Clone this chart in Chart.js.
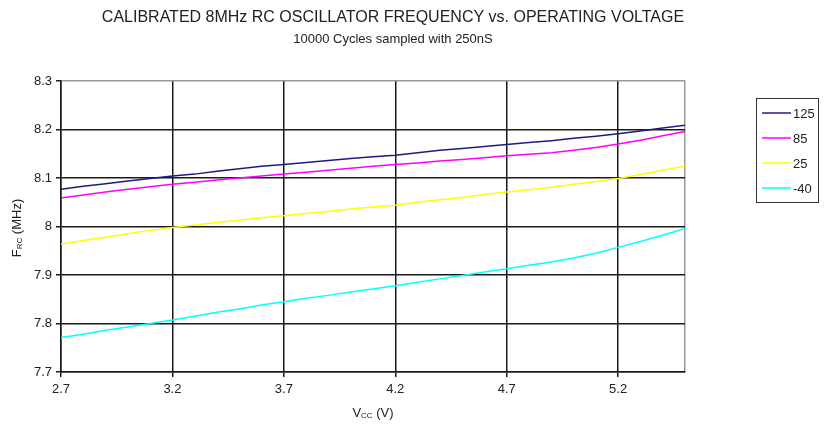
<!DOCTYPE html>
<html>
<head>
<meta charset="utf-8">
<script src="https://cdn.jsdelivr.net/npm/chart.js@4.4.1/dist/chart.umd.min.js"></script>
<style>
html,body{margin:0;padding:0;background:#fff;}
#wrap{width:824px;height:429px;position:relative;}
</style>
</head>
<body>
<div id="wrap"><canvas id="c" width="824" height="429"></canvas></div>
<script>
const voltages = [2.7,2.8,2.9,3.0,3.1,3.2,3.3,3.4,3.5,3.6,3.7,3.8,3.9,4.0,4.1,4.2,4.3,4.4,4.5,4.6,4.7,4.8,4.9,5.0,5.1,5.2,5.3,5.4,5.5];
const seriesNames = ["125","85","25","-40"];
const f125 = [8.077,8.083,8.088,8.094,8.099,8.104,8.108,8.114,8.119,8.124,8.128,8.132,8.136,8.140,8.144,8.147,8.152,8.157,8.161,8.165,8.169,8.173,8.177,8.182,8.186,8.191,8.197,8.203,8.209];
const f85 = [8.059,8.065,8.071,8.077,8.082,8.087,8.091,8.096,8.100,8.104,8.108,8.112,8.116,8.120,8.124,8.128,8.131,8.135,8.138,8.142,8.146,8.149,8.152,8.157,8.163,8.170,8.178,8.187,8.196];
const f25 = [7.964,7.971,7.978,7.985,7.992,7.998,8.003,8.008,8.013,8.018,8.022,8.027,8.031,8.036,8.040,8.044,8.050,8.055,8.060,8.066,8.071,8.076,8.081,8.087,8.093,8.099,8.107,8.116,8.125];
const fm40 = [7.771,7.778,7.786,7.793,7.800,7.807,7.815,7.823,7.830,7.838,7.845,7.852,7.858,7.865,7.871,7.878,7.885,7.892,7.899,7.906,7.913,7.920,7.927,7.935,7.945,7.957,7.969,7.982,7.996];
const xTickLabels = [2.7,3.2,3.7,4.2,4.7,5.2];
const yTickLabels = [7.7,7.8,7.9,8.0,8.1,8.2,8.3];
const titleText = "CALIBRATED 8MHz RC OSCILLATOR FREQUENCY vs. OPERATING VOLTAGE";
const subtitleText = "10000 Cycles sampled with 250nS";

const colors = ["#1c1c80","#ff00ff","#ffff00","#00ffff"];
const allSeries = [f125,f85,f25,fm40];
const FONT = "'Liberation Sans', Arial, sans-serif";

const datasets = allSeries.map((s,i)=>({
  label: seriesNames[i],
  data: s.map((v,j)=>({x:voltages[j], y:v})),
  borderColor: colors[i],
  backgroundColor: colors[i],
  borderWidth: 1.5,
  pointRadius: 0,
  tension: 0,
  fill: false
}));

const X_MIN = 2.7, X_MAX = 5.5;

const decor = {
  id:'decor',
  afterDraw(chart){
    const ctx = chart.ctx;
    ctx.save();
    ctx.fillStyle = '#222';
    ctx.textBaseline = 'middle';
    ctx.textAlign = 'center';
    ctx.font = "16px " + FONT;
    ctx.fillText(titleText, 393, 18);
    ctx.font = "13px " + FONT;
    ctx.fillText(subtitleText, 393, 39);

    function subText(parts, cx, cy){
      let total = 0;
      parts.forEach(p=>{ctx.font = p.size+"px "+FONT; p.w = ctx.measureText(p.t).width; total += p.w;});
      let x = cx - total/2;
      ctx.textAlign = 'left';
      parts.forEach(p=>{ctx.font = p.size+"px "+FONT; ctx.fillText(p.t, x, cy + (p.dy||0)); x += p.w;});
    }
    subText([{t:'V',size:13},{t:'CC',size:8,dy:3},{t:' (V)',size:13}], 373, 413);
    ctx.save();
    ctx.translate(17, 228);
    ctx.rotate(-Math.PI/2);
    subText([{t:'F',size:13},{t:'RC',size:8,dy:3},{t:' (MHz)',size:13}], 0, 0);
    ctx.restore();

    const lx = 756, ly = 98, lw = 62, lh = 104;
    ctx.strokeStyle = '#333';
    ctx.lineWidth = 1;
    ctx.strokeRect(lx+0.5, ly+0.5, lw, lh);
    ctx.font = "13px " + FONT;
    ctx.textAlign = 'left';
    seriesNames.forEach((n,i)=>{
      const y = 113 + i*25;
      ctx.strokeStyle = colors[i];
      ctx.lineWidth = 1.5;
      ctx.beginPath(); ctx.moveTo(762, y); ctx.lineTo(791, y); ctx.stroke();
      ctx.fillStyle = '#222';
      ctx.fillText(n, 793, y+1);
    });
    ctx.restore();
  }
};

new Chart(document.getElementById('c'), {
  type: 'line',
  data: { datasets },
  options: {
    responsive: false,
    animation: false,
    events: [],
    layout: { padding: { left: 0, top: 81, right: 139, bottom: 27 } },
    plugins: { legend: { display: false }, title: { display: false }, tooltip: { enabled: false } },
    scales: {
      x: {
        type: 'linear',
        min: X_MIN, max: X_MAX,
        afterBuildTicks(scale){ scale.ticks = xTickLabels.concat([X_MAX]).map(v=>({value:v})); },
        afterFit(scale){ scale.height = 30; },
        ticks: {
          autoSkip: false, maxRotation: 0,
          color: '#222', font: { family: FONT, size: 13 }, padding: 5,
          callback: (v)=> xTickLabels.includes(v) ? v.toFixed(1) : ''
        },
        grid: {
          color: (c)=> (c.tick && c.tick.value === X_MAX) ? '#999' : '#1a1a1a',
          tickColor: (c)=> (c.tick && c.tick.value === X_MAX) ? 'rgba(0,0,0,0)' : '#1a1a1a',
          lineWidth: 1.5, tickLength: 5, drawTicks: true
        },
        border: { color: '#1a1a1a', width: 1.5 }
      },
      y: {
        min: 7.7, max: 8.3,
        afterBuildTicks(scale){ scale.ticks = yTickLabels.map(v=>({value:v})); },
        afterFit(scale){ scale.width = 61; },
        ticks: {
          color: '#222', font: { family: FONT, size: 13 }, padding: 4,
          callback: (v)=> String(Math.round(v*10)/10)
        },
        grid: {
          color: (c)=> (c.tick && c.tick.value === 8.3) ? '#999' : '#1a1a1a',
          tickColor: '#1a1a1a',
          lineWidth: 1.5, tickLength: 5
        },
        border: { color: '#1a1a1a', width: 1.5 }
      }
    }
  },
  plugins: [decor]
});
</script>
</body>
</html>
